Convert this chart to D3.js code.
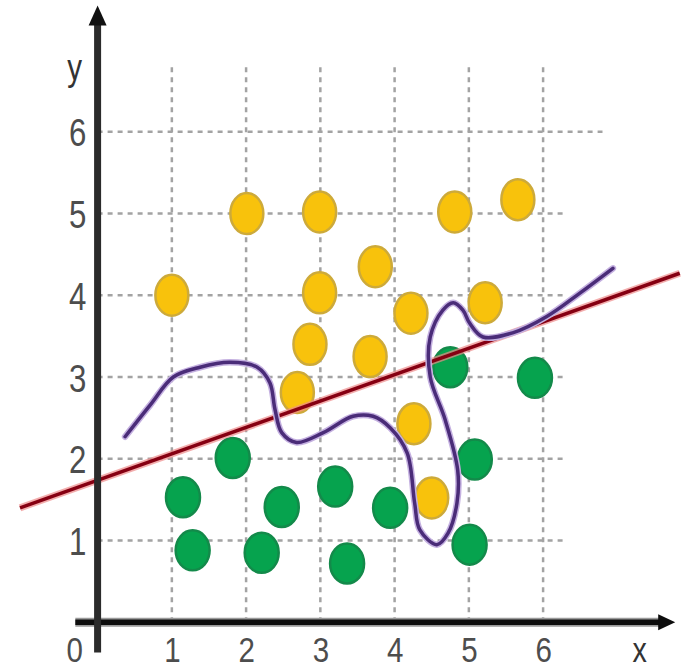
<!DOCTYPE html>
<html>
<head>
<meta charset="utf-8">
<script src="https://cdn.jsdelivr.net/npm/d3@7/dist/d3.min.js"></script>
<style>
  html, body { margin: 0; padding: 0; background: #fff; }
  svg { display: block; }
</style>
</head>
<body>
<svg id="chart" width="684" height="670"></svg>
<script>
// ---- data ----
const xTicks = [1, 2, 3, 4, 5, 6];
const yTicks = [1, 2, 3, 4, 5, 6];
const xTickLabels = ["1", "2", "3", "4", "5", "6"];
const yTickLabels = ["1", "2", "3", "4", "5", "6"];
const gridEnds = [6.3, 6.3, 6.3, 6.3, 6.3, 6.8]; // right end of each horizontal grid line (x units)

const yellowX = [1.0, 2.01, 2.99, 3.74, 2.99, 4.22, 2.86, 3.67, 2.69, 4.81, 5.66, 5.22, 4.26, 4.50];
const yellowY = [4.0, 5.0, 5.02, 4.35, 4.03, 3.78, 3.40, 3.25, 2.81, 5.02, 5.17, 3.91, 2.43, 1.52];

const greenX = [1.82, 1.15, 1.28, 2.48, 2.21, 3.20, 3.36, 3.94, 5.08, 5.01, 4.75, 5.89];
const greenY = [2.01, 1.53, 0.88, 1.41, 0.85, 1.66, 0.72, 1.40, 1.99, 0.95, 3.12, 2.99];

const lineX = [-1.045, 7.84];
const lineY = [1.40, 4.27];

const curveX = [0.37, 0.71, 1.02, 1.38, 1.78, 2.15, 2.32, 2.39, 2.48, 2.68, 3.04, 3.44, 3.71, 3.94, 4.17, 4.27, 4.34, 4.57, 4.72, 4.84, 4.85, 4.68, 4.48, 4.48, 4.65, 4.79, 4.92, 5.01, 5.19, 5.59, 6.05, 6.50, 6.94];
const curveY = [2.27, 2.66, 3.00, 3.12, 3.18, 3.12, 2.93, 2.60, 2.32, 2.20, 2.32, 2.52, 2.52, 2.38, 2.07, 1.46, 1.13, 0.95, 1.09, 1.46, 1.86, 2.48, 3.00, 3.49, 3.82, 3.91, 3.82, 3.66, 3.49, 3.54, 3.74, 4.03, 4.33];

// ---- scales ----
const svg = d3.select("#chart");
const x = d3.scaleLinear().domain([0, 6]).range([97.6, 543.1]);
const y = d3.scaleLinear().domain([0, 6]).range([622.3, 131.8]);

const FONT = "'Liberation Sans', Arial, sans-serif";
const TXT = "#4d4d4d";

// ---- grid ----
const grid = svg.append("g");
grid.selectAll("line.v").data(xTicks).join("line")
  .attr("x1", d => x(d)).attr("x2", d => x(d))
  .attr("y1", y(0)).attr("y2", y(6.85))
  .attr("stroke", "#a3a3a3").attr("stroke-width", 2.5)
  .attr("stroke-dasharray", "5,5");
grid.selectAll("line.h").data(yTicks).join("line")
  .attr("x1", x(0)).attr("x2", (d, i) => x(gridEnds[i]))
  .attr("y1", d => y(d)).attr("y2", d => y(d))
  .attr("stroke", "#a3a3a3").attr("stroke-width", 2.5)
  .attr("stroke-dasharray", "5,5");

// ---- points ----
const yellow = yellowX.map((v, i) => [v, yellowY[i]]);
const green = greenX.map((v, i) => [v, greenY[i]]);

svg.append("g").selectAll("ellipse").data(yellow).join("ellipse")
  .attr("cx", d => x(d[0])).attr("cy", d => y(d[1]))
  .attr("rx", 16.5).attr("ry", 20.5)
  .attr("fill", "#f8c20c").attr("stroke", "#cdaa3a").attr("stroke-width", 2.5);

svg.append("g").selectAll("ellipse").data(green).join("ellipse")
  .attr("cx", d => x(d[0])).attr("cy", d => y(d[1]))
  .attr("rx", 17).attr("ry", 20)
  .attr("fill", "#06a34e").attr("stroke", "#138a4a").attr("stroke-width", 2.5);

// ---- straight red line ----
const straight = lineX.map((v, i) => [v, lineY[i]]);
const lineGen = d3.line().x(d => x(d[0])).y(d => y(d[1]));
svg.append("path").attr("d", lineGen(straight))
  .attr("fill", "none").attr("stroke", "#ee8a8a").attr("stroke-width", 7).attr("opacity", 0.7);
svg.append("path").attr("d", lineGen(straight))
  .attr("fill", "none").attr("stroke", "#860012").attr("stroke-width", 3.5);

// ---- purple curve ----
const curvePts = curveX.map((v, i) => [v, curveY[i]]);
const curveGen = d3.line().x(d => x(d[0])).y(d => y(d[1])).curve(d3.curveCatmullRom.alpha(0.5));
svg.append("path").attr("d", curveGen(curvePts))
  .attr("fill", "none").attr("stroke", "#c4b0e0").attr("stroke-width", 6.5).attr("stroke-linecap", "round");
svg.append("path").attr("d", curveGen(curvePts))
  .attr("fill", "none").attr("stroke", "#4a2c78").attr("stroke-width", 3.5).attr("stroke-linecap", "round");

// ---- axes lines with arrows ----
const ax = svg.append("g");
ax.append("line")
  .attr("x1", x(-0.3)).attr("x2", x(7.6))
  .attr("y1", y(0)).attr("y2", y(0))
  .attr("stroke", "#9a9a9a").attr("stroke-width", 9);
ax.append("line")
  .attr("x1", x(-0.3)).attr("x2", x(7.6))
  .attr("y1", y(0)).attr("y2", y(0))
  .attr("stroke", "#0d0d0d").attr("stroke-width", 5.5);
ax.append("path")
  .attr("d", `M${x(7.55)},${y(0) - 8}L${x(7.55) + 17},${y(0)}L${x(7.55)},${y(0) + 8}Z`)
  .attr("fill", "#0d0d0d");

ax.append("line")
  .attr("x1", x(0)).attr("x2", x(0))
  .attr("y1", y(-0.37)).attr("y2", y(7.35))
  .attr("stroke", "#2b2b2b").attr("stroke-width", 7);
ax.append("path")
  .attr("d", `M${x(0) - 9},${y(7.3)}L${x(0)},${y(7.3) - 20}L${x(0) + 9},${y(7.3)}Z`)
  .attr("fill", "#111");

// ---- tick labels via d3 axes ----
const xAxis = d3.axisBottom(x).tickValues(xTicks).tickSize(0).tickFormat((d, i) => xTickLabels[i]);
const gx = svg.append("g").attr("transform", `translate(0,${y(0)})`).call(xAxis);
gx.select(".domain").remove();
gx.selectAll("text")
  .attr("y", 39.5).attr("dy", 0)
  .attr("transform", "scale(0.82,1)")
  .attr("x", 0)
  .style("font-family", FONT).style("font-size", "36px").attr("fill", TXT);

const yAxis = d3.axisLeft(y).tickValues(yTicks).tickSize(0).tickFormat((d, i) => yTickLabels[i]);
const gy = svg.append("g").attr("transform", `translate(${x(0) - 20},0)`).call(yAxis);
gy.select(".domain").remove();
gy.selectAll("text")
  .attr("x", 0).attr("dy", 0).attr("y", 14)
  .attr("text-anchor", "middle")
  .attr("transform", "scale(0.8,1)")
  .style("font-family", FONT).style("font-size", "39px").attr("fill", TXT);

// axis names and origin
svg.append("text").attr("transform", `translate(${x(0) - 23},${y(0) + 39.5}) scale(0.82,1)`)
  .attr("text-anchor", "middle").style("font-family", FONT).style("font-size", "36px").attr("fill", TXT).text("0");
svg.append("text").attr("transform", `translate(${x(7.3)},${y(0) + 39.5}) scale(0.82,1)`)
  .attr("text-anchor", "middle").style("font-family", FONT).style("font-size", "35px").attr("fill", "#333").text("x");
svg.append("text").attr("transform", `translate(${x(0) - 23},${y(6.63)}) scale(0.8,1)`)
  .attr("text-anchor", "middle").style("font-family", FONT).style("font-size", "37px").attr("fill", "#333").text("y");
</script>
</body>
</html>
